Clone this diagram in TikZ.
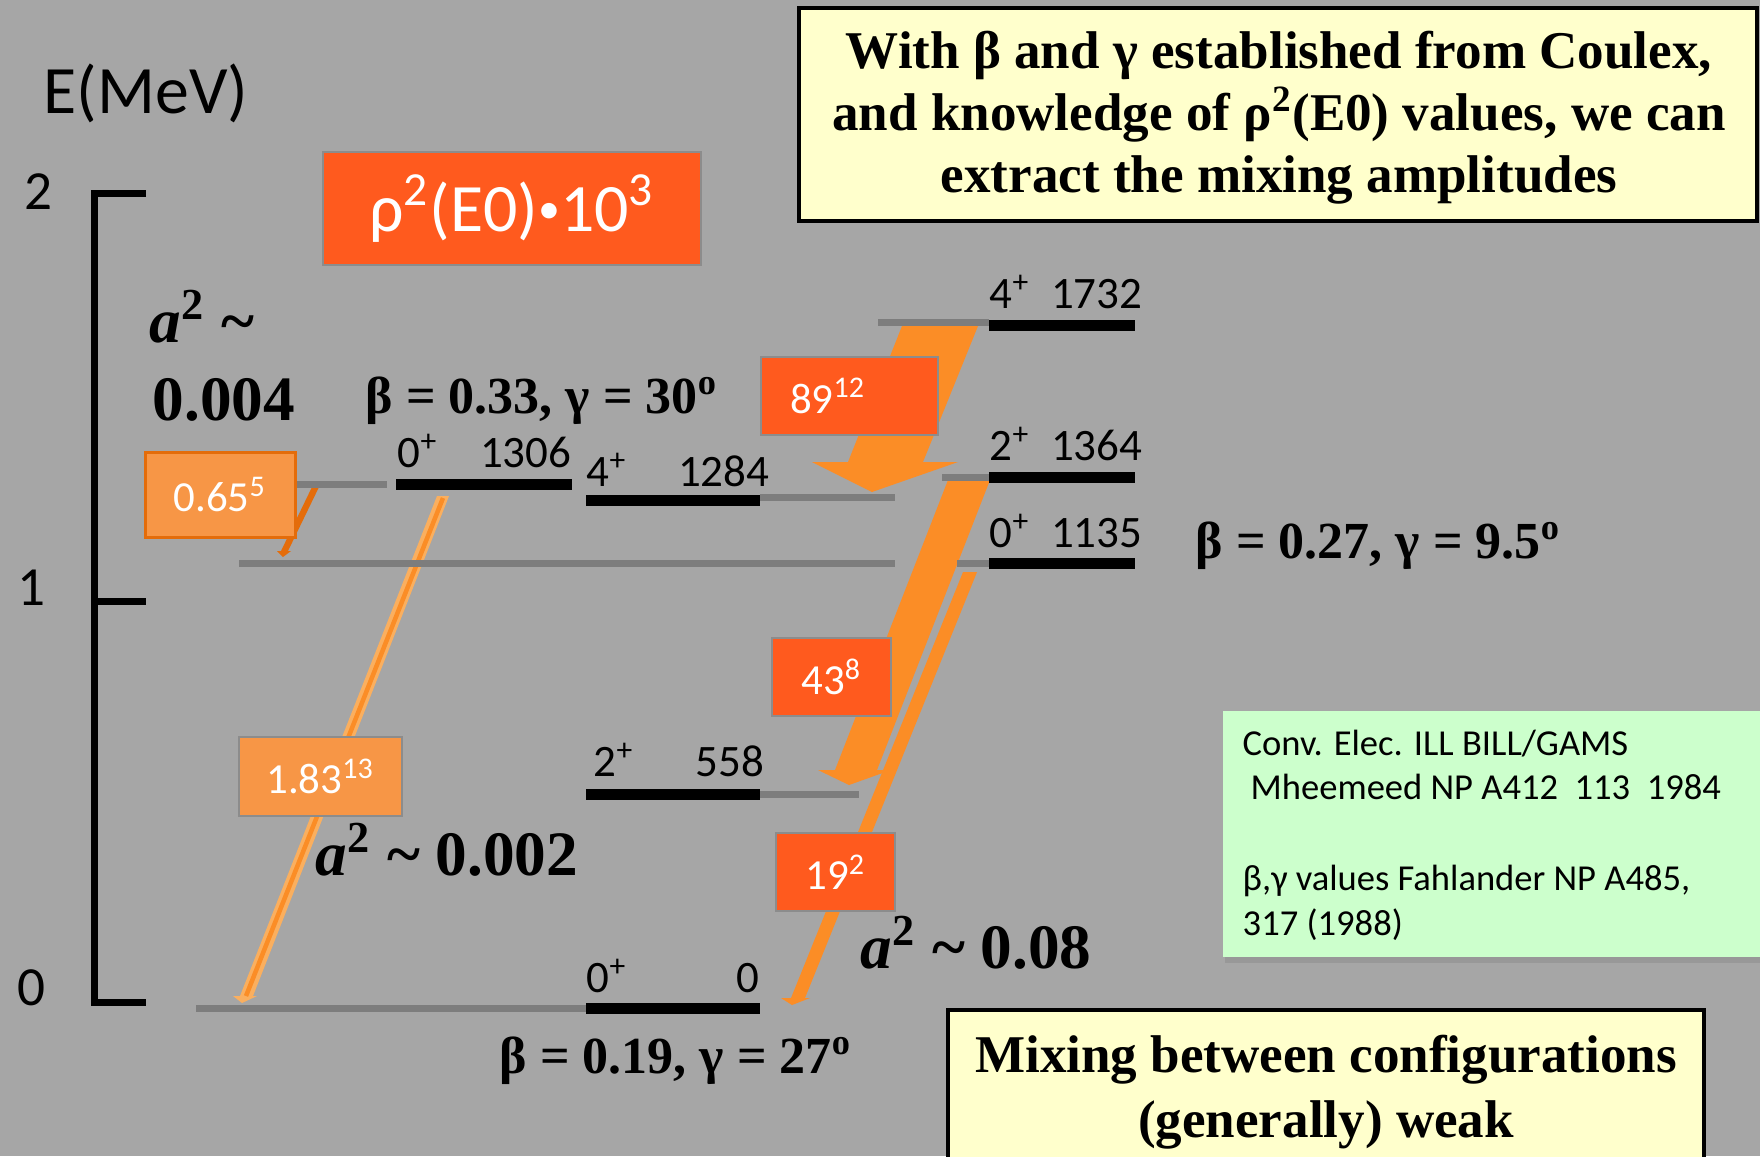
\documentclass[tikz,border=0pt]{standalone}
\usepackage{fontspec}
\setmainfont{Liberation Serif}
\setsansfont{Carlito}
\usetikzlibrary{shadows}

\definecolor{slide}{RGB}{166,166,166}
\definecolor{extgray}{RGB}{125,125,125}
\definecolor{hotorange}{RGB}{255,90,30}
\definecolor{softorange}{RGB}{247,150,70}
\definecolor{darkorange}{RGB}{228,108,10}
\definecolor{flow}{RGB}{251,141,38}
\definecolor{thinflow}{RGB}{250,175,95}
\definecolor{notebg}{RGB}{255,255,204}
\definecolor{refgreen}{RGB}{204,255,204}

\newcommand{\sfsize}[2]{\sffamily\fontsize{#1}{#2}\selectfont}
\newcommand{\rmsize}[2]{\rmfamily\bfseries\fontsize{#1}{#2}\selectfont}
\newcommand{\dotsep}{\raisebox{2.3pt}{\fontsize{12.5}{14}\selectfont •}}

\begin{document}
\begin{tikzpicture}[x=0.1mm, y=-0.1mm,
    lvl/.style={line width=1.1mm},
    ext/.style={line width=0.7mm, extgray},
    lbl/.style={inner sep=0, font=\sfsize{12.8}{15}},
    ebox/.style={draw=black!45, line width=0.3pt, fill=hotorange, text=white,
                 minimum width=11.9mm, minimum height=7.8mm, inner sep=0,
                 font=\sfsize{12.2}{14}},
    sbox/.style={ebox, fill=softorange},
    beta/.style={inner sep=0, anchor=base west, font=\rmsize{14.8}{18}},
    mix/.style={inner sep=0, anchor=base west, font=\rmsize{18}{21}},
    headline/.style={inner sep=0, anchor=base, font=\rmsize{15.1}{18}},
    ref/.style={inner sep=0, anchor=base west, font=\sfsize{10.4}{12.8}}
  ]
  \useasboundingbox (0,0) rectangle (1760,1156);
  \clip (0,0) rectangle (1760,1156);
  \fill[slide] (0,0) rectangle (1760,1156);

  % energy axis
  \node[inner sep=0, anchor=base west, font=\sfsize{19.3}{23}] (emev) at (43,113) {E(MeV)};
  \draw[line width=0.7mm] (146,193) -- (94,193) -- (94,1002) -- (146,1002);
  \draw[line width=0.7mm] (94,601) -- (146,601);
  \foreach \v/\xc/\yb in {2/38/209, 1/31/605, 0/31/1005}
    \node[inner sep=0, anchor=base, font=\sfsize{15.7}{18}] (tick\v) at (\xc,\yb) {\v};

  % E0 transitions
  \fill[thinflow] (437,496) -- (449,496) -- (253,996) -- (257,996) -- (242,1003)
    -- (233,996) -- (240,996) -- cycle;
  \draw[flow, line width=0.45mm] (443,498) -- (246,996);
  \fill[darkorange] (312,487) -- (319,487) -- (288,551) -- (291,551) -- (283,557)
    -- (277,551) -- (281,551) -- cycle;
  \fill[flow] (902,326) -- (978,326) -- (923,462) -- (958,462) -- (872,492)
    -- (812,462) -- (848,462) -- cycle;
  \fill[flow] (948,480) -- (990,480) -- (877,770) -- (891,770) -- (849,785)
    -- (818,770) -- (835,770) -- cycle;
  \fill[flow] (963,572) -- (977,572) -- (805,998) -- (810,998) -- (792,1005)
    -- (781,998) -- (791,998) -- cycle;

  % levels
  \foreach \xa/\xb/\y in {196/586/1008, 760/859/794, 760/895/497, 294/387/484,
                          239/895/563, 957/989/563, 942/989/477, 878/989/322}
    \draw[ext] (\xa,\y) -- (\xb,\y);
  \foreach \xa/\xb/\y in {586/760/1008, 586/760/794, 586/760/500, 396/572/484,
                          989/1135/563, 989/1135/477, 989/1135/325}
    \draw[lvl] (\xa,\y) -- (\xb,\y);
  \foreach \xa/\xb/\yb/\spin/\en in {397/572/467/0/1306, 586/770/486/4/1284,
      989/1143/308/4/1732, 989/1143/460/2/1364, 989/1143/547/0/1135,
      593/765/776/2/558, 586/760/992/0/0} {
    \node[lbl, anchor=base west] (j\en) at (\xa,\yb) {\spin\textsuperscript{+}};
    \node[lbl, anchor=base east] (e\en) at (\xb,\yb) {\en};
  }

  % rho^2(E0) values
  \node[ebox, minimum width=37.8mm, minimum height=11.3mm, font=\sfsize{19.3}{23}]
    (rho) at (512,208.5) {ρ\textsuperscript{2}(E0)\dotsep 10\textsuperscript{3}};
  \node[sbox, draw=darkorange, line width=0.3mm, minimum width=15mm,
        minimum height=8.5mm] (b065) at (220,494.5) {0.65\textsuperscript{5}};
  \node[sbox, minimum width=16.3mm, minimum height=7.9mm] (b183) at (320.5,776.5)
    {1.83\textsuperscript{13}};
  \node[ebox, minimum width=17.7mm] (b89) at (849.5,396) {};
  \node[inner sep=0, anchor=west, text=white, font=\sfsize{12.2}{14}] (t89)
    at ([xshift=2.9mm]b89.west) {89\textsuperscript{12}};
  \node[ebox] (b43) at (831.5,677) {43\textsuperscript{8}};
  \node[ebox] (b19) at (835.5,872) {19\textsuperscript{2}};

  % shapes and mixing
  \node[mix] (a2top) at (149,342) {\textit{a}\textsuperscript{2} \textasciitilde};
  \node[mix] (a2val) at (152,420) {0.004};
  \node[beta] (shape1) at (365,413) {β = 0.33, γ = 30\textsuperscript{o}};
  \node[beta] (shape2) at (1195,558) {β = 0.27, γ = 9.5\textsuperscript{o}};
  \node[beta] (shape0) at (499,1073) {β = 0.19, γ = 27\textsuperscript{o}};
  \node[mix] (a2mid) at (315,875) {\textit{a}\textsuperscript{2} \textasciitilde{} 0.002};
  \node[mix] (a2low) at (860,968) {\textit{a}\textsuperscript{2} \textasciitilde{} 0.08};

  % notes
  \draw[line width=0.45mm, fill=notebg] (799,8) rectangle (1757,221);
  \node[headline] (head1) at (1279,68) {With β and γ established from Coulex,};
  \node[headline] (head2) at (1279,130) {and knowledge of ρ\textsuperscript{2}(E0) values, we can};
  \node[headline] (head3) at (1279,192) {extract the mixing amplitudes};

  \fill[refgreen, drop shadow={shadow xshift=0.2mm, shadow yshift=-0.6mm, opacity=0.35}]
    (1223,711) rectangle (1775,957);
  \node[ref] (ref1) at (1242,755) {Conv. Elec. ILL BILL/GAMS};
  \node[ref] (ref2) at (1250,799) {Mheemeed NP A412\ \ 113\ \ 1984};
  \node[ref] (ref3) at (1242,890) {β,γ values Fahlander NP A485,};
  \node[ref] (ref4) at (1242,935) {317 (1988)};

  \draw[line width=0.45mm, fill=notebg] (948,1010) rectangle (1704,1190);
  \node[headline] (sum1) at (1326,1072) {Mixing between configurations};
  \node[headline] (sum2) at (1326,1137) {(generally) weak};
\end{tikzpicture}
\end{document}
